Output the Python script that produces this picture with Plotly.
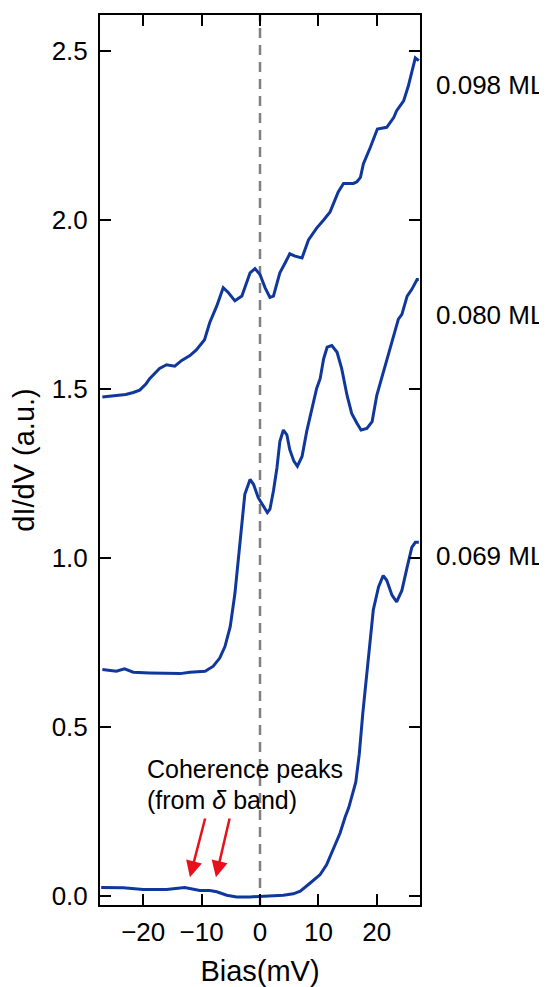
import plotly.graph_objects as go

# ---------------- data ----------------
bias_098 = [-27.0, -26.0, -24.6, -23.0, -21.7, -20.6, -19.5, -18.9, -17.2, -16.0, -14.6, -13.4,
            -12.0, -10.9, -9.5, -8.6, -7.4, -6.3, -5.4, -4.3, -3.1, -2.6, -1.7, -0.86, 0.0,
            0.86, 1.7, 2.3, 3.4, 4.3, 5.1, 6.0, 7.2, 8.3, 9.7, 10.9, 12.0, 13.4, 14.3, 16.0,
            16.6, 17.2, 17.7, 18.9, 20.1, 21.7, 22.9, 23.4, 24.6, 25.4, 26.0, 26.6, 27.2]
didv_098 = [1.476, 1.478, 1.481, 1.483, 1.489, 1.496, 1.515, 1.530, 1.560, 1.571, 1.567, 1.584,
            1.598, 1.615, 1.645, 1.696, 1.745, 1.799, 1.784, 1.760, 1.774, 1.799, 1.843, 1.855, 1.838,
            1.799, 1.770, 1.774, 1.843, 1.872, 1.899, 1.892, 1.887, 1.940, 1.975, 1.999, 2.023, 2.082, 2.107, 2.107,
            2.112, 2.125, 2.165, 2.214, 2.268, 2.273, 2.302, 2.322, 2.351, 2.395, 2.434, 2.478, 2.470]

bias_080 = [-27.0, -24.6, -23.2, -21.7, -18.9, -16.0, -13.7, -12.0, -9.4, -8.0, -6.9, -6.0, -5.1,
            -4.3, -3.7, -3.1, -2.6, -1.7, -1.1, -0.3, 0.57, 1.26, 1.7, 2.3, 2.9, 3.4, 4.0, 4.6,
            5.1, 5.8, 6.4, 7.2, 8.0, 8.9, 9.7, 10.3, 10.9, 11.5, 12.3, 13.2, 14.0, 14.9, 15.7,
            16.6, 17.3, 18.3, 19.2, 20.0, 20.9, 21.7, 22.6, 23.2, 23.7, 24.3, 25.2, 26.0, 26.9, 27.2]
didv_080 = [0.670, 0.665, 0.672, 0.662, 0.660, 0.660, 0.658, 0.662, 0.665, 0.680, 0.704, 0.738, 0.797,
            0.894, 0.992, 1.100, 1.188, 1.232, 1.217, 1.178, 1.154, 1.134, 1.144, 1.198, 1.266, 1.344, 1.378, 1.364,
            1.320, 1.286, 1.271, 1.300, 1.374, 1.442, 1.501, 1.530, 1.589, 1.623, 1.628, 1.608, 1.559, 1.481, 1.427,
            1.398, 1.378, 1.383, 1.403, 1.481, 1.535, 1.589, 1.642, 1.671, 1.706, 1.720, 1.774, 1.794, 1.823, 1.823]

bias_069 = [-27.2, -23.4, -20.0, -16.0, -12.9, -12.0, -10.3, -8.6, -7.4, -5.7, -4.0, -1.7, 1.1,
            4.0, 5.7, 6.9, 8.6, 10.3, 11.4, 12.6, 13.7, 14.6, 15.2, 16.4, 17.0, 17.6, 18.2,
            18.9, 19.4, 20.3, 21.1, 21.7, 22.6, 23.4, 24.3, 25.2, 26.0, 26.6, 27.2]
didv_069 = [0.026, 0.025, 0.020, 0.020, 0.026, 0.023, 0.017, 0.017, 0.013, 0.003, -0.002, -0.002, 0.000,
            0.003, 0.007, 0.015, 0.039, 0.064, 0.093, 0.142, 0.186, 0.235, 0.262, 0.337, 0.420, 0.540, 0.650,
            0.767, 0.846, 0.914, 0.948, 0.934, 0.890, 0.870, 0.904, 0.973, 1.031, 1.046, 1.046]

series_labels = ["0.098 ML", "0.080 ML", "0.069 ML"]
label_y = [2.398, 1.719, 1.005]

x_ticks = [-20, -10, 0, 10, 20]
y_ticks = [0.0, 0.5, 1.0, 1.5, 2.0, 2.5]

# arrows: tails and tips
arrow_tail_x = [-9.33, -5.15]
arrow_tip_x = [-12.0, -7.55]
arrow_tail_y = 0.234
arrow_tip_y = 0.056

# ---------------- figure ----------------
FONT = "Liberation Sans, Arial, Helvetica, sans-serif"
LINE_COLOR = "#10389c"

fig = go.Figure()
for xs, ys, name in [(bias_098, didv_098, series_labels[0]),
                     (bias_080, didv_080, series_labels[1]),
                     (bias_069, didv_069, series_labels[2])]:
    fig.add_trace(go.Scatter(x=xs, y=ys, mode="lines", name=name,
                             line=dict(color=LINE_COLOR, width=3), showlegend=False))

# dashed zero-bias line
fig.add_shape(type="line", xref="x", yref="paper", x0=0, x1=0, y0=0, y1=1,
              line=dict(color="#808080", width=2.5, dash="10px,7px"), layer="below")

annotations = []
for lab, yy in zip(series_labels, label_y):
    annotations.append(dict(text=lab, xref="paper", yref="y", x=1.045, y=yy,
                            xanchor="left", yanchor="middle", showarrow=False,
                            font=dict(family=FONT, size=26, color="black")))

annotations.append(dict(text="Coherence peaks", xref="x", yref="y", x=-19.7, y=0.375,
                        xanchor="left", yanchor="middle", showarrow=False,
                        font=dict(family=FONT, size=25, color="black")))
annotations.append(dict(text="(from <i>δ</i> band)", xref="x", yref="y", x=-19.7, y=0.284,
                        xanchor="left", yanchor="middle", showarrow=False,
                        font=dict(family=FONT, size=25, color="black")))
for tx, hx in zip(arrow_tail_x, arrow_tip_x):
    annotations.append(dict(text="", xref="x", yref="y", x=hx, y=arrow_tip_y,
                            axref="x", ayref="y", ax=tx, ay=arrow_tail_y,
                            showarrow=True, arrowhead=2, arrowsize=1.3, arrowwidth=2.5,
                            arrowcolor="#e8101c"))

axis_common = dict(showline=True, linecolor="black", linewidth=2, mirror="allticks",
                   ticks="inside", ticklen=11, tickwidth=2, tickcolor="black",
                   showgrid=False, zeroline=False,
                   tickfont=dict(family=FONT, size=26, color="black"))

# page body has an 8px margin, so the figure is shrunk by 8px and margins shifted
fig.update_layout(
    width=539, height=979,
    margin=dict(l=92, r=127, t=5, b=76),
    paper_bgcolor="white", plot_bgcolor="white",
    xaxis=dict(range=[-27.4, 27.4], tickvals=x_ticks, ticklabelstandoff=3,
               title=dict(text="Bias(mV)", font=dict(family=FONT, size=29, color="black"), standoff=14),
               **axis_common),
    yaxis=dict(range=[-0.026, 2.605], tickvals=y_ticks, tickformat=".1f", ticklabelstandoff=5,
               title=dict(text="dI/dV (a.u.)", font=dict(family=FONT, size=29, color="black"), standoff=10),
               **axis_common),
    annotations=annotations,
)

fig.write_html("out.html")
